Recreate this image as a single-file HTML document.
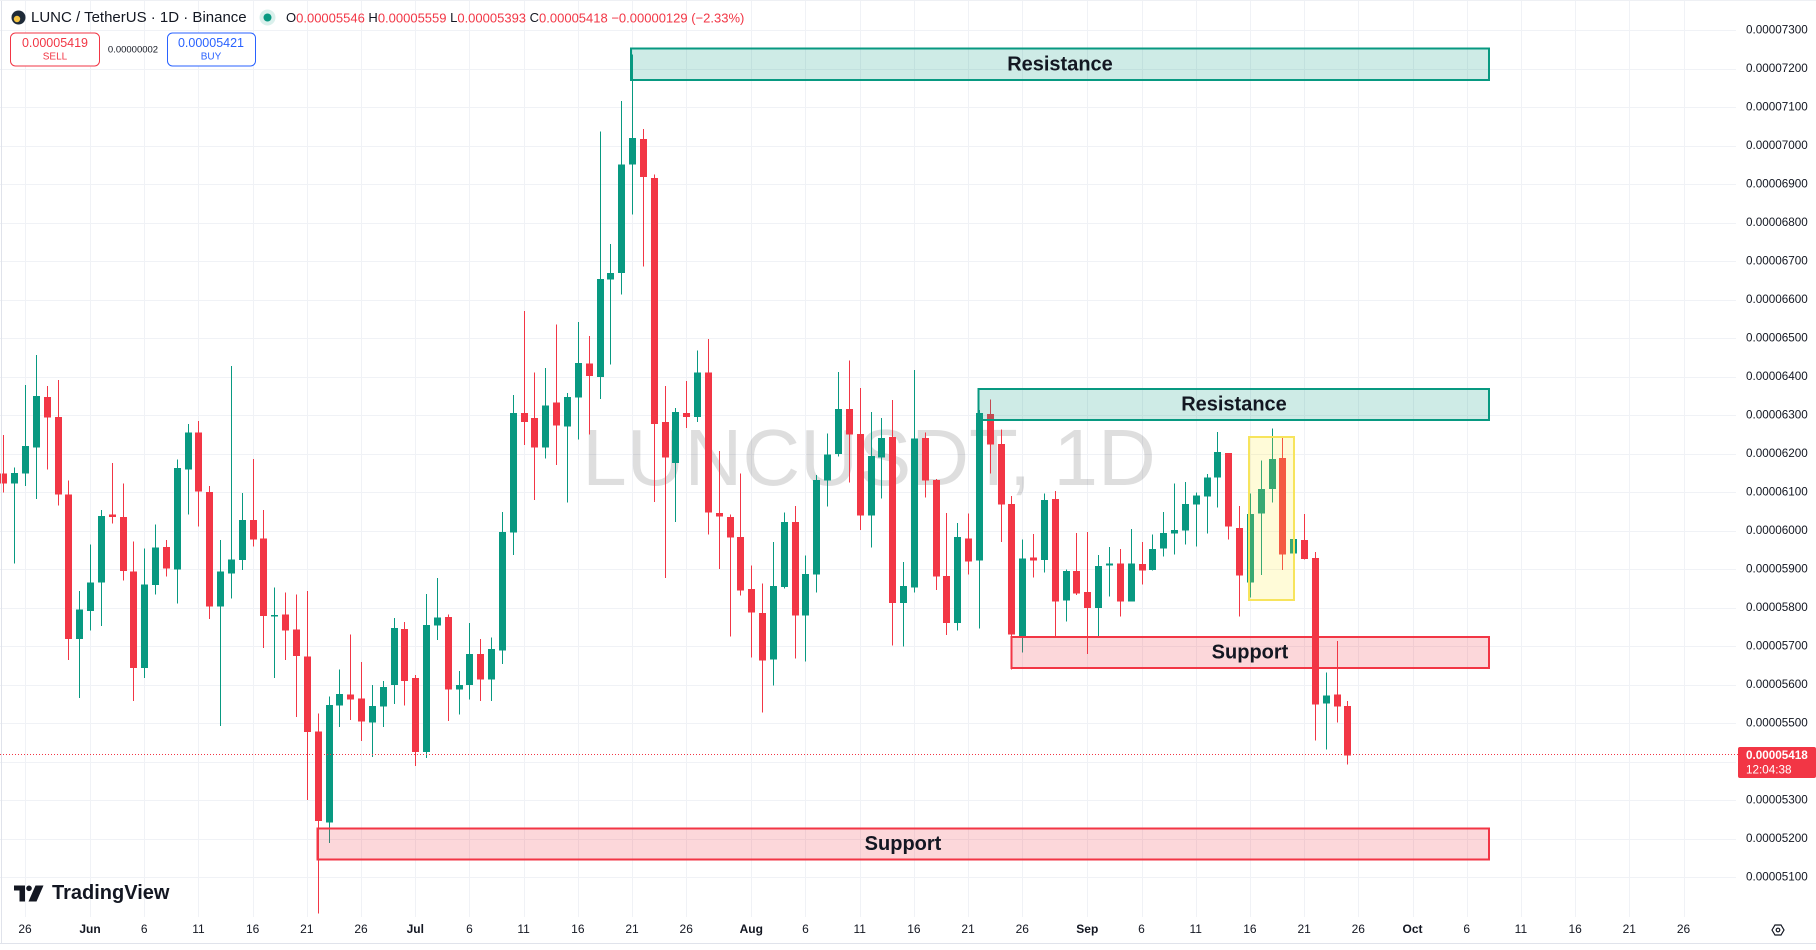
<!DOCTYPE html>
<html><head><meta charset="utf-8"><style>
html,body{margin:0;padding:0;background:#fff;width:1816px;height:950px;overflow:hidden}
svg{display:block;font-family:"Liberation Sans",Arial,sans-serif}
</style></head><body>
<svg id="c" width="1816" height="950" viewBox="0 0 1816 950" xmlns="http://www.w3.org/2000/svg">
<rect width="1816" height="950" fill="#fff"/>
<g id="grid" stroke="#f0f2f6" stroke-width="1" shape-rendering="crispEdges"></g>
<text x="869" y="485" text-anchor="middle" font-size="80" fill="#000" fill-opacity="0.13">LUNCUSDT, 1D</text>
<g id="candles" shape-rendering="crispEdges"></g>

<!-- boxes -->
<rect x="631" y="48.5" width="858" height="31.5" fill="#089981" fill-opacity="0.2" stroke="#089981" stroke-width="2"/>
<text x="1060" y="64.5" text-anchor="middle" dominant-baseline="central" font-size="20" font-weight="bold" fill="#131722">Resistance</text>
<rect x="978.5" y="389" width="510.5" height="31" fill="#089981" fill-opacity="0.2" stroke="#089981" stroke-width="2"/>
<text x="1234" y="404.5" text-anchor="middle" dominant-baseline="central" font-size="20" font-weight="bold" fill="#131722">Resistance</text>
<rect x="1011.5" y="637" width="477.5" height="31" fill="#f23645" fill-opacity="0.2" stroke="#f23645" stroke-width="2"/>
<text x="1250" y="652.5" text-anchor="middle" dominant-baseline="central" font-size="20" font-weight="bold" fill="#131722">Support</text>
<rect x="317.5" y="828.5" width="1171.5" height="31" fill="#f23645" fill-opacity="0.2" stroke="#f23645" stroke-width="2"/>
<text x="903" y="844" text-anchor="middle" dominant-baseline="central" font-size="20" font-weight="bold" fill="#131722">Support</text>
<rect x="1249" y="437" width="45" height="163" fill="#ffeb3b" fill-opacity="0.2" stroke="#f7e45c" stroke-width="2"/>

<!-- current price line -->
<line x1="0" y1="754.5" x2="1738" y2="754.5" stroke="#f23645" stroke-width="1" stroke-dasharray="1,2"/>

<!-- header -->
<circle cx="18.5" cy="17.5" r="7" fill="#1e2a38"/>
<circle cx="17" cy="19" r="3.2" fill="#f5c542"/>
<text x="31" y="17.5" dominant-baseline="central" font-size="15" fill="#131722">LUNC / TetherUS · 1D · Binance</text>
<circle cx="267.5" cy="17.5" r="8" fill="#089981" fill-opacity="0.15"/>
<circle cx="267.5" cy="17.5" r="4" fill="#089981"/>
<text x="286" y="17.5" dominant-baseline="central" font-size="13" fill="#131722">O<tspan fill="#f23645">0.00005546</tspan> H<tspan fill="#f23645">0.00005559</tspan> L<tspan fill="#f23645">0.00005393</tspan> C<tspan fill="#f23645">0.00005418</tspan> <tspan fill="#f23645">−0.00000129 (−2.33%)</tspan></text>

<rect x="10.5" y="33" width="89" height="33" rx="5" fill="#fff" stroke="#f23645" stroke-width="1"/>
<text x="55" y="43" text-anchor="middle" dominant-baseline="central" font-size="12.5" fill="#f23645">0.00005419</text>
<text x="55" y="57" text-anchor="middle" dominant-baseline="central" font-size="10" fill="#f23645">SELL</text>
<text x="133" y="50" text-anchor="middle" dominant-baseline="central" font-size="9.5" fill="#131722">0.00000002</text>
<rect x="167.5" y="33" width="88" height="33" rx="5" fill="#fff" stroke="#2962ff" stroke-width="1"/>
<text x="211" y="43" text-anchor="middle" dominant-baseline="central" font-size="12.5" fill="#2962ff">0.00005421</text>
<text x="211" y="57" text-anchor="middle" dominant-baseline="central" font-size="10" fill="#2962ff">BUY</text>

<!-- TradingView logo -->
<g fill="#131722">
<path d="M14 885.5 H25 V901.5 H19.5 V890.5 H14 Z"/>
<circle cx="29" cy="888.3" r="2.8"/>
<polygon points="35.5,885.5 43.5,885.5 36.5,901.5 28.5,901.5"/>
<text x="52" y="899" font-size="20" font-weight="bold">TradingView</text>
</g>

<g id="axes"></g>

<!-- price label -->
<rect x="1738" y="747" width="78" height="31" rx="2" fill="#f23645"/>
<text x="1746" y="755.5" dominant-baseline="central" font-size="11.7" font-weight="bold" fill="#fff">0.00005418</text>
<text x="1746" y="770" dominant-baseline="central" font-size="11.7" fill="#fff">12:04:38</text>

<!-- settings icon -->
<polygon points="1772,930 1775,925 1781,925 1784,930 1781,935 1775,935" fill="none" stroke="#131722" stroke-width="1.2"/>
<circle cx="1778" cy="930" r="1.8" fill="none" stroke="#131722" stroke-width="1.2"/>

<!-- borders -->
<line x1="0" y1="943.5" x2="1816" y2="943.5" stroke="#e0e3eb" stroke-width="1"/>
<line x1="1.5" y1="0" x2="1.5" y2="943" stroke="#e0e3eb" stroke-width="1"/>
<line x1="0" y1="0.5" x2="1816" y2="0.5" stroke="#eef0f4" stroke-width="1"/>
</svg>
<script>
(function(){
var NS="http://www.w3.org/2000/svg";
function el(tag,attrs,parent,txt){var e=document.createElementNS(NS,tag);for(var k in attrs)e.setAttribute(k,attrs[k]);if(txt!==undefined)e.textContent=txt;parent.appendChild(e);return e;}
var grid=document.getElementById('grid'),axes=document.getElementById('axes'),cg=document.getElementById('candles');
function px(d){return 25+10.84*d;}
// horizontal grid + price labels
for(var p=5100;p<=7300;p+=100){
  var y=30+(7300-p)*0.385;
  var yy=Math.round(y)+0.5;
  el('line',{x1:0,y1:yy,x2:1736,y2:yy},grid);
  if(Math.abs(y-754.6)>12){
    el('text',{x:1746,y:y,'dominant-baseline':'central','font-size':'11.7',fill:'#131722'},axes,'0.0000'+p);
  }
}
// vertical grid + date labels
var ticks=[[0,'26'],[6,'Jun',1],[11,'6'],[16,'11'],[21,'16'],[26,'21'],[31,'26'],[36,'Jul',1],[41,'6'],[46,'11'],[51,'16'],[56,'21'],[61,'26'],[67,'Aug',1],[72,'6'],[77,'11'],[82,'16'],[87,'21'],[92,'26'],[98,'Sep',1],[103,'6'],[108,'11'],[113,'16'],[118,'21'],[123,'26'],[128,'Oct',1],[133,'6'],[138,'11'],[143,'16'],[148,'21'],[153,'26']];
ticks.forEach(function(t){
  var x=px(t[0]);var xx=Math.round(x)+0.5;
  el('line',{x1:xx,y1:0,x2:xx,y2:917},grid);
  var a={x:x,y:929,'text-anchor':'middle','dominant-baseline':'central','font-size':'12',fill:'#131722'};
  if(t[2])a['font-weight']='bold';
  el('text',a,axes,t[1]);
});
var conv={
 8:function(z){return 340+z*0.3693;},
 9:function(z){return 59.3+z*0.4589;},
 10:function(z){return 340+z/3;},
 11:function(z){return 380+z/3;}
};
var data={
8:[[-2,1,362,388,257,413],[-1,0,360,388,345,605],[0,0,287,361,122,395],[1,0,151,291,41,430],[2,1,155,210,124,350],[3,1,208,418,108,448],[4,1,419,810,381,867],[5,0,730,810,679,970],[6,0,657,734,554,786],[7,0,476,657,461,775],[8,1,473,479,333,497],[9,1,479,626,389,651],[10,1,627,888,546,978],[11,0,662,888,565,915],[12,0,562,664,500,689],[13,1,560,619,541,640],[14,0,346,621,324,713],[15,0,250,350,228,472],[16,1,251,410,219,505],[17,1,411,721,395,756],[18,0,627,721,541,1045],[19,0,595,632,70,700],[20,0,487,596,414,623],[21,1,487,540,322,559],[22,1,538,748,460,834],[23,0,745,749,670,915],[24,1,743,786,684,867],[25,1,784,856,689,1021],[26,1,857,1061,679,1245],[27,1,1060,1303,1012,1553],[28,0,989,1307,965,1362]],
9:[[29,0,1383,1408,1330,1455],[30,1,1384,1395,1253,1440],[31,1,1393,1443,1313,1485],[32,0,1409,1445,1363,1520],[33,0,1368,1410,1355,1455],[34,0,1239,1363,1217,1405],[35,1,1241,1355,1226,1408],[36,1,1348,1510,1342,1540],[37,0,1233,1510,1165,1523],[38,0,1216,1234,1130,1265],[39,1,1215,1373,1210,1442],[40,0,1363,1373,1333,1428],[41,0,1296,1363,1228,1395],[42,1,1296,1351,1263,1398],[43,0,1285,1351,1260,1398],[44,0,1030,1288,987,1318],[45,0,771,1031,731,1080],[46,1,771,790,549,840],[47,1,782,846,682,960],[48,0,754,846,673,870],[49,1,748,798,578,884],[50,0,736,800,727,966],[51,0,662,737,573,828],[52,1,663,690,603,818],[53,0,479,692,157,740],[54,0,466,480,403,665],[55,0,229,466,91,512],[56,0,172,229,-10,338],[57,1,174,256,152,451],[58,1,259,795,251,965],[59,1,790,868,712,1130],[60,0,769,880,760,1008],[61,1,771,779,701,803],[62,0,683,779,635,790]],
10:[[63,1,97,518,-3,583],[64,1,519,530,333,687],[65,1,531,593,524,889],[66,1,591,752,400,767],[67,1,747,818,676,952],[68,1,819,962,730,1118],[69,0,738,959,606,1037],[70,0,546,741,517,746],[71,1,546,827,498,956],[72,0,702,827,646,965],[73,0,420,704,405,758],[74,0,343,422,280,500],[75,0,207,342,96,350],[76,1,207,284,61,428],[77,1,282,527,144,570],[78,0,348,527,216,623],[79,0,294,352,234,476],[80,1,291,789,180,917],[81,0,738,789,666,920],[82,0,295,743,90,757],[83,1,294,422,278,473],[84,1,420,710,417,750],[85,1,708,849,519,885],[86,0,591,849,549,872],[87,1,595,665,521,703],[88,0,219,662,210,866],[89,1,222,314,178,400],[90,1,312,494,268,606],[91,1,492,884,468,988]],
11:[[92,0,535,768,478,818],[93,1,532,542,462,593],[94,0,360,540,340,578],[95,1,357,665,333,770],[96,0,573,662,568,725],[97,1,573,641,459,645],[98,1,636,684,456,822],[99,0,558,684,525,770],[100,0,551,556,501,650],[101,1,551,665,507,710],[102,0,551,665,447,665],[103,1,552,572,486,614],[104,0,507,570,464,572],[105,0,459,506,396,530],[106,0,450,461,310,523],[107,0,372,452,306,494],[108,0,347,374,338,499],[109,0,293,350,282,461],[110,0,216,293,156,383],[111,1,219,440,219,478],[112,1,444,587,378,710],[113,0,402,608,340,652],[114,0,327,401,242,585],[115,0,237,327,145,368],[116,1,234,524,174,570],[117,0,477,521,399,553],[118,1,480,537,402,539],[119,1,534,974,516,1082],[120,0,947,970,878,1108],[121,1,944,980,783,1027],[122,1,978,1126,963,1153]]
};
for(var z in data){
  var f=conv[z];
  data[z].forEach(function(c){
    var cx=Math.round(px(c[0]));
    var col=c[1]?'#f23645':'#089981';
    var bt=f(c[2]),bb=f(c[3]),wt=f(c[4]),wb=f(c[5]);
    el('rect',{x:cx,y:wt,width:1,height:Math.max(1,wb-wt),fill:col},cg);
    el('rect',{x:cx-3,y:bt,width:7,height:Math.max(1,bb-bt),fill:col},cg);
  });
}
})();
</script>
</body></html>
